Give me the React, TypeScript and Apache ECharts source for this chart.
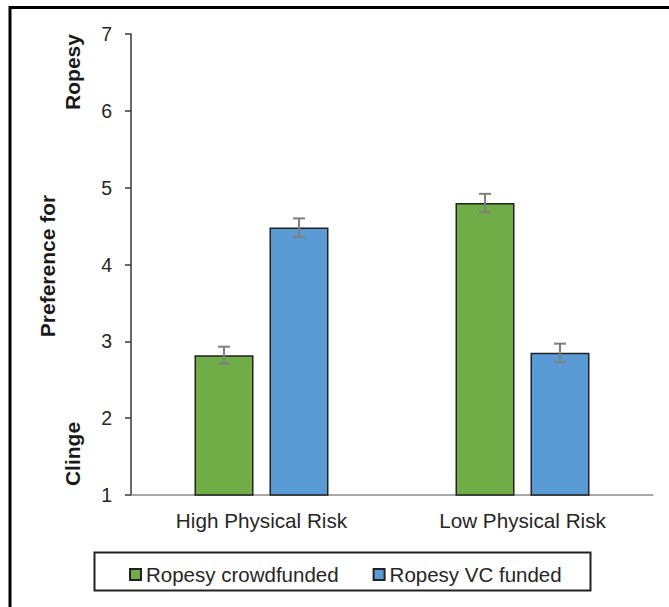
import React, { useEffect, useRef } from "react";
import * as echarts from "echarts";

const categories = ["High Physical Risk", "Low Physical Risk"];
const crowdfunded = [2.82, 4.8];
const crowdfundedErr = [0.11, 0.12];
const vcFunded = [4.48, 2.85];
const vcFundedErr = [0.12, 0.12];
const seriesNames = ["Ropesy crowdfunded", "Ropesy VC funded"];
const yTicks = [1, 2, 3, 4, 5, 6, 7];

const FONT = "'Liberation Sans', Arial, sans-serif";
const GREEN = "#70AD47";
const BLUE = "#5B9BD5";
const BAR_W = 59;
const BAR_GAP = 16;

function errorSeries(name: string, means: number[], errs: number[], side: number) {
  const offset = side * (BAR_W + BAR_GAP) / 2;
  return {
    type: "custom",
    name: name + " error",
    z: 5,
    silent: true,
    data: means.map((m, i) => [i, m, errs[i]]),
    renderItem: (params: any, api: any) => {
      const idx = api.value(0);
      const mean = api.value(1);
      const err = api.value(2);
      const top = api.coord([idx, mean + err]);
      const bot = api.coord([idx, mean - err]);
      const x = top[0] + offset;
      const cap = 6;
      const style = { stroke: "#7f7f7f", lineWidth: 2 };
      return {
        type: "group",
        children: [
          { type: "line", shape: { x1: x, y1: top[1], x2: x, y2: bot[1] }, style },
          { type: "line", shape: { x1: x - cap, y1: top[1], x2: x + cap, y2: top[1] }, style },
          { type: "line", shape: { x1: x - cap, y1: bot[1], x2: x + cap, y2: bot[1] }, style },
        ],
      };
    },
  };
}

export default function App() {
  const ref = useRef<HTMLDivElement>(null);
  useEffect(() => {
    if (!ref.current) return;
    const chart = echarts.init(ref.current, undefined, { renderer: "svg" });
    const barItem = (color: string) => ({ color, borderColor: "#222", borderWidth: 1.5 });
    chart.setOption({
      animation: false,
      backgroundColor: "#fff",
      grid: { left: 131, right: 16, top: 34, bottom: 112, containLabel: false },
      xAxis: {
        type: "category",
        data: categories,
        axisLine: { lineStyle: { color: "#8c8c8c", width: 1.5 } },
        axisTick: { show: false },
        axisLabel: { fontFamily: FONT, fontSize: 20.7, color: "#262626", margin: 15 },
      },
      yAxis: {
        type: "value",
        min: yTicks[0],
        max: yTicks[yTicks.length - 1],
        interval: 1,
        splitLine: { show: false },
        axisLine: { show: true, lineStyle: { color: "#3a3a3a", width: 1.5 } },
        axisTick: { show: true, length: 6, lineStyle: { color: "#3a3a3a", width: 1.5 } },
        axisLabel: { fontFamily: FONT, fontSize: 19.5, color: "#262626", margin: 19 },
      },
      legend: {
        data: seriesNames,
        left: 124,
        top: 559,
        itemWidth: 11,
        itemHeight: 11,
        itemGap: 34,
        icon: "rect",
        textStyle: { fontFamily: FONT, fontSize: 20.5, color: "#262626", padding: [0, 0, 0, 0] },
      },
      graphic: [
        {
          type: "rect",
          shape: { x: 10, y: 7.5, width: 700, height: 700 },
          style: { fill: "none", stroke: "#000", lineWidth: 3 },
          silent: true,
        },
        {
          type: "rect",
          shape: { x: 94.5, y: 552.5, width: 496, height: 38 },
          style: { fill: "none", stroke: "#222", lineWidth: 2 },
          silent: true,
          z: -1,
        },
        {
          type: "text",
          x: 72,
          y: 72,
          rotation: Math.PI / 2,
          style: { text: "Ropesy", fontFamily: FONT, fontWeight: "bold", fontSize: 21, fill: "#1a1a1a", align: "center", verticalAlign: "middle" },
        },
        {
          type: "text",
          x: 47,
          y: 266,
          rotation: Math.PI / 2,
          style: { text: "Preference for", fontFamily: FONT, fontWeight: "bold", fontSize: 21, fill: "#1a1a1a", align: "center", verticalAlign: "middle" },
        },
        {
          type: "text",
          x: 72,
          y: 454,
          rotation: Math.PI / 2,
          style: { text: "Clinge", fontFamily: FONT, fontWeight: "bold", fontSize: 21, fill: "#1a1a1a", align: "center", verticalAlign: "middle" },
        },
      ],
      series: [
        {
          type: "bar",
          name: seriesNames[0],
          data: crowdfunded,
          barWidth: BAR_W,
          barGap: ((BAR_GAP / BAR_W) * 100).toFixed(1) + "%",
          itemStyle: barItem(GREEN),
        },
        {
          type: "bar",
          name: seriesNames[1],
          data: vcFunded,
          barWidth: BAR_W,
          itemStyle: barItem(BLUE),
        },
        errorSeries(seriesNames[0], crowdfunded, crowdfundedErr, -1),
        errorSeries(seriesNames[1], vcFunded, vcFundedErr, 1),
      ],
    });
    return () => chart.dispose();
  }, []);
  return (
    <div
      ref={ref}
      style={{ position: "absolute", left: 0, top: 0, width: 669, height: 607 }}
    />
  );
}
